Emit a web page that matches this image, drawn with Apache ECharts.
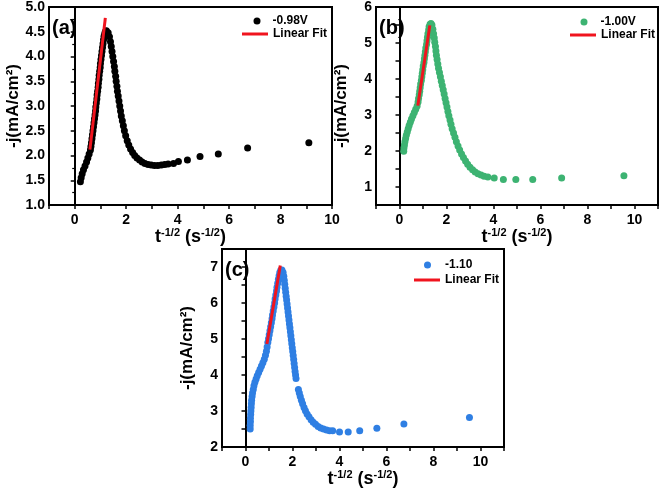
<!DOCTYPE html>
<html>
<head>
<meta charset="utf-8">
<script src="https://cdn.jsdelivr.net/npm/echarts@6/dist/echarts.min.js"></script>
<style>
  html, body { margin: 0; padding: 0; background: #fff; }
  #main { width: 661px; height: 490px; }
</style>
</head>
<body>
<div id="main"></div>
<script>
// panel (a) -0.98V
var dataA = [
  [0.22,1.47],[0.25,1.55],[0.29,1.63],[0.34,1.71],[0.40,1.79],[0.46,1.87],[0.51,1.95],[0.56,2.03],[0.61,2.11],
  [0.63,2.18],[0.65,2.26],[0.67,2.34],[0.69,2.42],[0.71,2.50],[0.73,2.58],[0.75,2.66],[0.77,2.74],[0.79,2.82],
  [0.81,2.90],[0.82,2.98],[0.84,3.06],[0.86,3.14],[0.87,3.22],[0.89,3.30],[0.91,3.38],[0.92,3.46],[0.94,3.54],
  [0.95,3.62],[0.97,3.70],[0.99,3.78],[1.00,3.86],[1.02,3.94],[1.04,4.02],[1.06,4.10],[1.08,4.18],[1.10,4.26],
  [1.12,4.34],[1.14,4.41],[1.17,4.47],[1.20,4.51],[1.23,4.52],
  [1.30,4.48],[1.35,4.40],[1.39,4.30],[1.42,4.20],[1.45,4.10],[1.48,4.00],[1.51,3.90],[1.54,3.80],[1.56,3.70],
  [1.59,3.60],[1.61,3.50],[1.64,3.40],[1.66,3.30],[1.69,3.20],[1.72,3.10],[1.75,3.00],[1.78,2.90],[1.81,2.80],
  [1.85,2.70],[1.89,2.60],[1.93,2.50],[1.98,2.40],[2.04,2.30],[2.10,2.21],[2.17,2.13],[2.25,2.06],[2.33,2.00],
  [2.42,1.95],[2.52,1.91],[2.62,1.87],[2.73,1.84],[2.85,1.82],[2.97,1.81],[3.10,1.80],[3.23,1.80],[3.37,1.81],
  [3.50,1.82],[3.63,1.83],[3.84,1.84],[4.03,1.88],[4.38,1.91],[4.87,1.98],[5.58,2.03],[6.72,2.15],[9.10,2.26]
];
var fitA = [[0.59,2.12],[1.19,4.78]];

// panel (b) -1.00V
var dataB = [
  [0.18,1.99],[0.19,2.08],[0.21,2.17],[0.23,2.26],[0.26,2.35],[0.29,2.44],[0.33,2.53],[0.37,2.62],[0.41,2.71],
  [0.46,2.80],[0.51,2.89],[0.57,2.98],[0.63,3.07],[0.69,3.16],[0.75,3.25],
  [0.79,3.36],[0.81,3.46],[0.84,3.56],[0.86,3.66],[0.88,3.76],[0.90,3.86],[0.93,3.96],[0.95,4.06],[0.97,4.16],
  [0.99,4.26],[1.01,4.36],[1.04,4.46],[1.06,4.56],[1.08,4.66],[1.10,4.76],[1.12,4.86],[1.15,4.96],[1.17,5.06],
  [1.19,5.16],[1.21,5.26],[1.24,5.36],[1.26,5.45],[1.30,5.52],[1.34,5.54],
  [1.38,5.50],[1.42,5.38],[1.45,5.26],[1.48,5.14],[1.50,5.02],[1.53,4.90],[1.55,4.78],[1.57,4.66],[1.60,4.54],
  [1.63,4.42],[1.66,4.30],[1.70,4.18],[1.74,4.06],[1.78,3.94],[1.82,3.82],[1.86,3.70],[1.90,3.58],[1.94,3.46],
  [1.98,3.34],[2.02,3.22],[2.06,3.10],[2.10,2.98],[2.15,2.86],[2.19,2.74],[2.24,2.62],[2.30,2.50],[2.36,2.38],
  [2.42,2.26],[2.49,2.14],[2.56,2.03],[2.64,1.92],[2.72,1.82],[2.81,1.72],[2.90,1.63],[3.00,1.55],[3.11,1.48],
  [3.22,1.42],[3.34,1.37],[3.47,1.33],[3.60,1.30],[3.76,1.28],
  [4.03,1.25],[4.42,1.21],[4.95,1.21],[5.67,1.21],[6.90,1.25],[9.55,1.31]
];
var fitB = [[0.78,3.26],[1.29,5.49]];

// panel (c) -1.10
var dataC = [
  [0.20,2.50],[0.20,2.60],[0.21,2.70],[0.21,2.80],[0.22,2.90],[0.23,3.00],[0.24,3.10],[0.25,3.20],[0.26,3.30],
  [0.28,3.40],[0.30,3.50],[0.33,3.60],[0.36,3.70],[0.40,3.80],[0.45,3.89],[0.50,3.98],[0.56,4.07],[0.62,4.16],
  [0.68,4.25],[0.74,4.34],[0.80,4.44],[0.85,4.55],[0.89,4.66],[0.92,4.78],
  [0.95,4.90],[0.98,5.01],[1.01,5.12],[1.04,5.23],[1.07,5.34],[1.10,5.45],[1.13,5.56],[1.15,5.67],[1.18,5.78],
  [1.21,5.89],[1.24,6.00],[1.26,6.11],[1.29,6.22],[1.32,6.33],[1.34,6.44],[1.37,6.55],[1.40,6.66],[1.43,6.76],
  [1.46,6.85],[1.50,6.91],[1.55,6.92],
  [1.60,6.85],[1.63,6.74],[1.65,6.63],[1.67,6.52],[1.69,6.41],[1.71,6.30],[1.73,6.19],[1.75,6.08],[1.77,5.97],
  [1.79,5.86],[1.81,5.75],[1.83,5.64],[1.85,5.53],[1.87,5.42],[1.89,5.31],[1.91,5.20],[1.93,5.09],[1.95,4.98],
  [1.97,4.87],[1.99,4.76],[2.01,4.65],[2.03,4.54],[2.05,4.43],[2.07,4.32],[2.09,4.21],[2.11,4.10],[2.13,4.00],
  [2.15,3.90],
  [2.25,3.60],[2.29,3.50],[2.33,3.40],[2.38,3.30],[2.43,3.20],[2.49,3.10],[2.55,3.01],[2.62,2.92],[2.70,2.84],
  [2.79,2.76],[2.88,2.69],[2.98,2.63],[3.09,2.57],[3.20,2.53],[3.32,2.50],[3.45,2.47],[3.58,2.45],
  [3.71,2.45],[4.00,2.42],[4.37,2.42],[4.86,2.45],[5.59,2.52],[6.74,2.64],[9.53,2.82]
];
var fitC = [[0.91,4.86],[1.48,7.04]];

var namesScatter = ['-0.98V', '-1.00V', '-1.10'];
var fitName = 'Linear Fit';
var panelLabels = ['(a)', '(b)', '(c)'];

var RED = '#f0141e';
var colors = ['#000000', '#3db372', '#2f7fe3'];
var FONT = 'Arial, "Liberation Sans", sans-serif';

var grids = [
    {left: 49, top: 7, width: 283, height: 198},
    {left: 376, top: 7, width: 282, height: 198},
    {left: 222, top: 249, width: 282, height: 198}
];

// legend placement: dot row [left, top, extra text gap], line row [left, top]
var dotLegendPos = [[253.5, 15, 7], [580.5, 16, 8], [424, 259, 9]];
var lineLegendPos = [[242, 28], [570, 29], [414, 274]];

function xAxisFor(i, max) {
    return {
        type: 'value', gridIndex: i, min: -1, max: max, interval: 1,
        name: '{m|t}{s|-1/2}{m| (s}{s|-1/2}{m|)}',
        nameLocation: 'middle', nameGap: 22,
        nameTextStyle: {
            rich: {
                m: {fontSize: 18, fontWeight: 'bold', fontFamily: FONT, color: '#000'},
                s: {fontSize: 11, fontWeight: 'bold', fontFamily: FONT, color: '#000', verticalAlign: 'top'}
            }
        },
        axisLine: {lineStyle: {color: '#000', width: 2}},
        axisTick: {length: 4, lineStyle: {width: 1.5}},
        axisLabel: {
            color: '#000', fontSize: 14, fontWeight: 'bold', fontFamily: FONT, margin: 8,
            formatter: function (v) { return v % 2 === 0 ? String(v) : ''; }
        },
        splitLine: {show: false}
    };
}

function yAxisFor(i, opts) {
    var ax = {
        type: 'value', gridIndex: i,
        name: '-j(mA/cm\u00b2)', nameLocation: 'middle', nameGap: 26,
        nameTextStyle: {fontSize: 17, fontWeight: 'bold', fontFamily: FONT, color: '#000'},
        axisLine: {show: true, lineStyle: {color: '#000', width: 2}},
        axisTick: {length: 4, lineStyle: {width: 1.5}},
        axisLabel: {color: '#000', fontSize: 14, fontWeight: 'bold', fontFamily: FONT, margin: 4},
        splitLine: {show: false}
    };
    for (var k in opts) {
        if (k === 'axisLabel') {
            for (var j in opts[k]) ax.axisLabel[j] = opts[k][j];
        } else {
            ax[k] = opts[k];
        }
    }
    return ax;
}

var isInt = function (v) { return Math.abs(v - Math.round(v)) < 1e-6; };

var legends = [];
for (var i = 0; i < 3; i++) {
    var d = dotLegendPos[i], l = lineLegendPos[i];
    legends.push({left: d[0], top: d[1], orient: 'vertical', padding: 0,
        itemWidth: 7, itemHeight: 7,
        textStyle: {fontSize: 12, fontWeight: 'bold', fontFamily: FONT, color: '#000', padding: [0, 0, 0, d[2]]},
        data: [{name: namesScatter[i], icon: 'circle'}]});
    legends.push({left: l[0], top: l[1], orient: 'vertical', padding: 0,
        itemWidth: 26, itemHeight: 3,
        textStyle: {fontSize: 12, fontWeight: 'bold', fontFamily: FONT, color: '#000'},
        data: [{name: fitName, icon: 'rect'}]});
}

var option = {
    animation: false,
    backgroundColor: '#fff',
    title: panelLabels.map(function (t, i) {
        return {
            text: t, left: grids[i].left + 3, top: grids[i].top + 11, padding: 0,
            textStyle: {fontSize: 20, fontWeight: 'bold', fontFamily: FONT, color: '#000'}
        };
    }),
    grid: grids.map(function (g) {
        return {left: g.left, top: g.top, width: g.width, height: g.height,
            show: true, borderColor: '#000', borderWidth: 2, backgroundColor: 'transparent'};
    }),
    legend: legends,
    xAxis: [xAxisFor(0, 10), xAxisFor(1, 11), xAxisFor(2, 11)],
    yAxis: [
        yAxisFor(0, {min: 1, max: 5, interval: 0.5,
            minorTick: {show: true, splitNumber: 2, length: 2.5, lineStyle: {color: '#000', width: 1.2}},
            axisLabel: {formatter: function (v) { return v.toFixed(1); }}}),
        yAxisFor(1, {min: 0.5, max: 6, interval: 0.5,
            axisLabel: {formatter: function (v) { return isInt(v) ? String(Math.round(v)) : ''; }}}),
        yAxisFor(2, {min: 2, max: 7.5, interval: 0.5,
            axisLabel: {formatter: function (v) { return isInt(v) ? String(Math.round(v)) : ''; }}})
    ],
    series: [
        {type: 'scatter', name: namesScatter[0], xAxisIndex: 0, yAxisIndex: 0, data: dataA,
            symbolSize: 7, itemStyle: {color: colors[0], opacity: 1}},
        {type: 'line', name: fitName, xAxisIndex: 0, yAxisIndex: 0, data: fitA, symbol: 'none',
            lineStyle: {color: RED, width: 3}, itemStyle: {color: RED}, z: 5},
        {type: 'scatter', name: namesScatter[1], xAxisIndex: 1, yAxisIndex: 1, data: dataB,
            symbolSize: 7, itemStyle: {color: colors[1], opacity: 1}},
        {type: 'line', name: fitName, xAxisIndex: 1, yAxisIndex: 1, data: fitB, symbol: 'none',
            lineStyle: {color: RED, width: 3}, itemStyle: {color: RED}, z: 5},
        {type: 'scatter', name: namesScatter[2], xAxisIndex: 2, yAxisIndex: 2, data: dataC,
            symbolSize: 7, itemStyle: {color: colors[2], opacity: 1}},
        {type: 'line', name: fitName, xAxisIndex: 2, yAxisIndex: 2, data: fitC, symbol: 'none',
            lineStyle: {color: RED, width: 3}, itemStyle: {color: RED}, z: 5}
    ]
};

var chart = echarts.init(document.getElementById('main'), null, {renderer: 'canvas'});
chart.setOption(option);
</script>
</body>
</html>
